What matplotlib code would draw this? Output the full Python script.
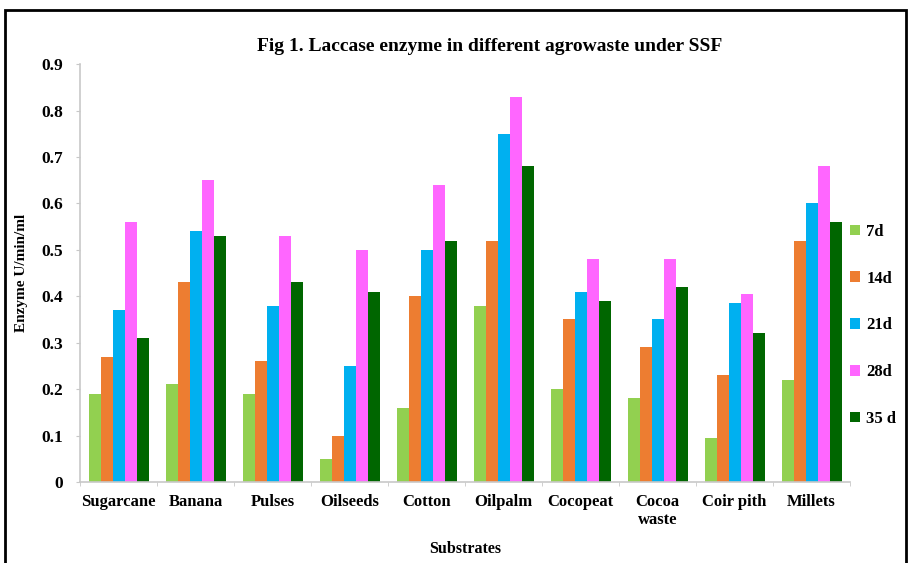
import numpy as np
import matplotlib
matplotlib.use("Agg")
import matplotlib.pyplot as plt
from matplotlib.patches import Rectangle

# data
substrates = ["Sugarcane", "Banana", "Pulses", "Oilseeds", "Cotton",
              "Oilpalm", "Cocopeat", "Cocoa\nwaste", "Coir pith", "Millets"]
d7 = [0.19, 0.21, 0.19, 0.05, 0.16, 0.38, 0.20, 0.18, 0.095, 0.22]
d14 = [0.27, 0.43, 0.26, 0.10, 0.40, 0.52, 0.35, 0.29, 0.23, 0.52]
d21 = [0.37, 0.54, 0.38, 0.25, 0.50, 0.75, 0.41, 0.35, 0.385, 0.60]
d28 = [0.56, 0.65, 0.53, 0.50, 0.64, 0.83, 0.48, 0.48, 0.405, 0.68]
d35 = [0.31, 0.53, 0.43, 0.41, 0.52, 0.68, 0.39, 0.42, 0.32, 0.56]
series_names = ["7d", "14d", "21d", "28d", "35 d"]
colors = ["#92D050", "#ED7D31", "#00B0F0", "#FF66FF", "#006600"]
yticks = [0, 0.1, 0.2, 0.3, 0.4, 0.5, 0.6, 0.7, 0.8, 0.9]

plt.rcParams["font.family"] = ["Liberation Serif", "DejaVu Serif"]
plt.rcParams["font.weight"] = "bold"

fig = plt.figure(figsize=(9.15, 5.63), dpi=100)
ax = fig.add_axes([0.0875, 0.144, 0.8415, 0.742])

x = np.arange(len(substrates))
w = 0.156
series = [d7, d14, d21, d28, d35]
for i in range(len(series)):
    ax.bar(x + (i - 2) * w, series[i], width=w, color=colors[i],
           label=series_names[i])

ax.set_xlim(-0.5, len(substrates) - 0.5)
ax.set_ylim(0, 0.9)
ax.set_yticks(yticks)
ax.set_yticklabels(["0" if v == 0 else "%.1f" % v for v in yticks], fontsize=12.5, fontweight="bold")
ax.set_xticks(x)
ax.set_xticklabels(substrates, fontsize=12, fontweight="bold", linespacing=1.15)
ax.set_xticks(np.arange(-0.5, len(substrates), 1), minor=True)
ax.tick_params(axis="x", which="major", length=0, pad=9)
ax.tick_params(axis="x", which="minor", length=3, color="#c8c8c8")
ax.tick_params(axis="y", length=3, color="#c8c8c8", pad=9)

for s in ["top", "right"]:
    ax.spines[s].set_visible(False)
for s in ["left", "bottom"]:
    ax.spines[s].set_color("#c8c8c8")
    ax.spines[s].set_linewidth(1.2)

ax.set_xlabel("Substrates", fontsize=11.5, fontweight="bold", labelpad=9)
ax.set_ylabel("Enzyme U/min/ml", fontsize=11, fontweight="bold", labelpad=10)
fig.text(0.535, 0.918, "Fig 1. Laccase enzyme in different agrowaste under SSF",
         ha="center", va="center", fontsize=14, fontweight="bold")

fig.legend(loc="center left", bbox_to_anchor=(0.913, 0.422), frameon=False,
           handlelength=0.6, handleheight=0.6, handletextpad=0.35,
           labelspacing=1.85, prop={"size": 12, "weight": "bold"})

# outer frame
fig.patches.append(Rectangle((0.005, -0.01), 0.985, 0.992, transform=fig.transFigure,
                             fill=False, edgecolor="black", linewidth=2))

fig.savefig("out.png", dpi=100)
